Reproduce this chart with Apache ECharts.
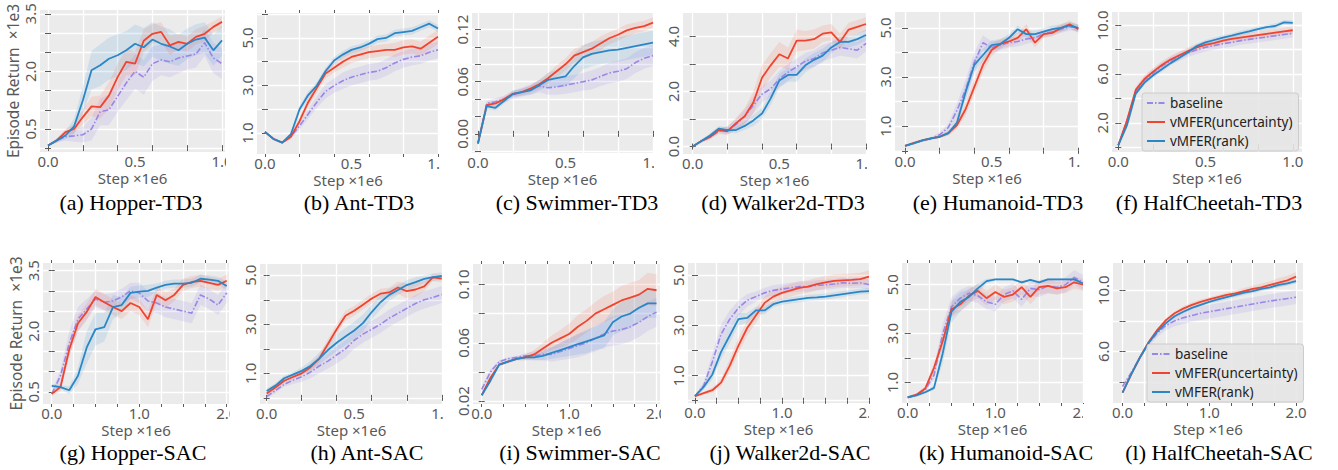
<!DOCTYPE html>
<html><head><meta charset="utf-8">
<script src="https://cdn.jsdelivr.net/npm/echarts@6/dist/echarts.min.js"></script>
<style>html,body{margin:0;padding:0;background:#fff}#chart{width:1338px;height:470px}</style>
</head><body><div id="chart"></div>
<script>
// ---------------- DATA ----------------
const stepsTD3 = [0,0.05,0.1,0.15,0.2,0.25,0.3,0.35,0.4,0.45,0.5,0.55,0.6,0.65,0.7,0.75,0.8,0.85,0.9,0.95,1.0];
const stepsSAC = [0,0.1,0.2,0.3,0.4,0.5,0.6,0.7,0.8,0.9,1.0,1.1,1.2,1.3,1.4,1.5,1.6,1.7,1.8,1.9,2.0];
const xGrid1M = [0,0.2,0.4,0.6,0.8,1.0];
const xLabels1M = [0,0.5,1.0];
const xGrid2M = [0,0.25,0.5,0.75,1.0,1.25,1.5,1.75,2.0];
const xLabels2M = [0,1.0,2.0];
const seriesNames = ['baseline','vMFER(uncertainty)','vMFER(rank)'];

// (a) Hopper-TD3
const hopperTD3_baseline = [0.07,0.2,0.3,0.32,0.35,0.5,0.95,1.0,1.35,1.7,2.0,1.85,2.2,2.3,2.25,2.35,2.4,2.45,2.75,2.35,2.2];
const hopperTD3_uncertainty = [0.07,0.2,0.42,0.5,0.81,1.09,1.07,1.37,1.85,2.25,2.2,2.8,2.98,3.03,2.68,2.77,2.72,2.9,2.98,3.16,3.29];
const hopperTD3_rank = [0.07,0.2,0.33,0.57,1.24,2.03,2.16,2.33,2.42,2.55,2.72,2.63,2.83,2.72,2.65,2.55,2.72,2.83,2.88,2.55,2.81];
const hopperTD3_baseline_sd = [0.02,0.05,0.1,0.15,0.2,0.3,0.35,0.4,0.4,0.45,0.45,0.45,0.45,0.4,0.4,0.4,0.35,0.35,0.35,0.4,0.4];
const hopperTD3_uncertainty_sd = [0.02,0.05,0.08,0.12,0.2,0.25,0.3,0.35,0.35,0.35,0.3,0.3,0.25,0.25,0.25,0.2,0.2,0.2,0.2,0.15,0.15];
const hopperTD3_rank_sd = [0.02,0.05,0.1,0.2,0.35,0.5,0.55,0.55,0.55,0.5,0.5,0.5,0.45,0.45,0.45,0.4,0.4,0.4,0.4,0.4,0.4];
const hopperTD3_yGrid = [0,0.5,1,1.5,2,2.5,3,3.5];
const hopperTD3_yLabels = [0.5,2,3.5];

// (b) Ant-TD3
const antTD3_baseline = [1.05,0.75,0.6,0.85,1.3,1.8,2.3,2.75,3.0,3.2,3.35,3.45,3.55,3.6,3.75,3.95,4.1,4.2,4.25,4.4,4.5];
const antTD3_uncertainty = [1.05,0.75,0.6,0.85,1.5,2.3,2.9,3.5,3.75,4.0,4.2,4.3,4.4,4.45,4.5,4.5,4.6,4.65,4.55,4.8,5.05];
const antTD3_rank = [1.05,0.75,0.6,0.95,2.0,2.6,3.0,3.6,4.05,4.3,4.5,4.6,4.75,4.95,5.0,5.2,5.25,5.3,5.45,5.6,5.4];
const antTD3_baseline_sd = [0.05,0.05,0.05,0.1,0.15,0.2,0.25,0.3,0.3,0.35,0.35,0.35,0.35,0.35,0.35,0.35,0.35,0.35,0.35,0.35,0.35];
const antTD3_uncertainty_sd = [0.05,0.05,0.05,0.1,0.15,0.2,0.2,0.2,0.2,0.25,0.25,0.25,0.25,0.25,0.25,0.3,0.3,0.3,0.3,0.3,0.3];
const antTD3_rank_sd = [0.05,0.05,0.05,0.1,0.15,0.15,0.15,0.15,0.15,0.15,0.15,0.15,0.15,0.15,0.15,0.15,0.15,0.15,0.15,0.15,0.15];
const antTD3_yGrid = [1,2,3,4,5,6];
const antTD3_yLabels = [1,3,5];

// (c) Swimmer-TD3
const swimmerTD3_baseline = [-0.011,0.035,0.037,0.040,0.045,0.048,0.051,0.055,0.053,0.054,0.056,0.058,0.060,0.062,0.066,0.070,0.072,0.075,0.082,0.087,0.090];
const swimmerTD3_uncertainty = [-0.011,0.033,0.035,0.040,0.046,0.048,0.052,0.057,0.064,0.072,0.080,0.090,0.094,0.098,0.104,0.110,0.114,0.119,0.122,0.124,0.128];
const swimmerTD3_rank = [-0.011,0.032,0.030,0.038,0.046,0.048,0.050,0.056,0.062,0.064,0.066,0.078,0.088,0.092,0.094,0.096,0.097,0.099,0.101,0.103,0.105];
const swimmerTD3_baseline_sd = [0.002,0.003,0.004,0.004,0.005,0.005,0.006,0.007,0.008,0.009,0.01,0.01,0.01,0.011,0.011,0.012,0.012,0.012,0.012,0.012,0.012];
const swimmerTD3_uncertainty_sd = [0.002,0.003,0.003,0.003,0.003,0.004,0.004,0.005,0.006,0.007,0.007,0.008,0.008,0.008,0.008,0.007,0.007,0.007,0.006,0.006,0.006];
const swimmerTD3_rank_sd = [0.002,0.003,0.003,0.003,0.004,0.004,0.005,0.006,0.008,0.01,0.012,0.014,0.014,0.014,0.014,0.014,0.014,0.014,0.014,0.014,0.014];
const swimmerTD3_yGrid = [-0.02,0,0.02,0.04,0.06,0.08,0.10,0.12];
const swimmerTD3_yLabels = [0,0.06,0.12];

// (d) Walker2d-TD3
const walkerTD3_baseline = [0,0.2,0.35,0.55,0.6,0.8,1.1,1.5,1.9,2.1,2.45,2.7,2.9,3.1,3.2,3.4,3.5,3.6,3.55,3.5,3.75];
const walkerTD3_uncertainty = [0,0.2,0.35,0.6,0.55,0.85,1.1,1.6,2.5,2.95,3.35,3.2,3.85,3.85,3.9,4.1,4.15,3.8,4.25,4.35,4.45];
const walkerTD3_rank = [0,0.2,0.4,0.65,0.6,0.6,0.75,0.95,1.2,1.75,2.4,2.6,2.6,2.95,3.15,3.3,3.6,3.8,3.8,3.9,4.05];
const walkerTD3_baseline_sd = [0.02,0.05,0.08,0.1,0.15,0.2,0.25,0.3,0.3,0.3,0.3,0.3,0.3,0.3,0.3,0.3,0.3,0.3,0.3,0.3,0.3];
const walkerTD3_uncertainty_sd = [0.02,0.05,0.08,0.1,0.15,0.2,0.3,0.4,0.45,0.45,0.45,0.4,0.4,0.35,0.35,0.3,0.3,0.3,0.25,0.25,0.25];
const walkerTD3_rank_sd = [0.02,0.05,0.08,0.1,0.1,0.12,0.15,0.2,0.2,0.25,0.25,0.25,0.25,0.25,0.25,0.25,0.2,0.2,0.2,0.2,0.2];
const walkerTD3_yGrid = [0,1,2,3,4];
const walkerTD3_yLabels = [0,2,4];

// (e) Humanoid-TD3
const humanoidTD3_baseline = [0.2,0.3,0.42,0.5,0.65,0.95,1.65,2.5,3.6,4.4,4.2,4.3,4.4,4.45,4.55,4.6,4.75,4.85,4.95,5.05,5.0];
const humanoidTD3_uncertainty = [0.2,0.32,0.42,0.5,0.57,0.72,1.05,1.7,2.6,3.5,4.1,4.35,4.45,4.6,4.95,4.4,4.75,4.8,5.0,5.15,4.95];
const humanoidTD3_rank = [0.2,0.3,0.42,0.5,0.57,0.72,1.15,2.4,3.5,3.9,4.3,4.35,4.6,4.95,4.75,4.75,4.85,4.95,5.0,5.1,5.0];
const humanoidTD3_baseline_sd = [0.02,0.03,0.05,0.05,0.1,0.15,0.3,0.4,0.4,0.3,0.25,0.2,0.2,0.2,0.2,0.15,0.15,0.15,0.15,0.15,0.15];
const humanoidTD3_uncertainty_sd = [0.02,0.03,0.05,0.05,0.05,0.1,0.15,0.25,0.3,0.3,0.25,0.2,0.2,0.2,0.2,0.2,0.15,0.15,0.15,0.15,0.15];
const humanoidTD3_rank_sd = [0.02,0.03,0.05,0.05,0.05,0.1,0.2,0.3,0.3,0.25,0.2,0.2,0.15,0.15,0.15,0.15,0.15,0.15,0.15,0.15,0.15];
const humanoidTD3_yGrid = [0,1,2,3,4,5];
const humanoidTD3_yLabels = [1,3,5];

// (f) HalfCheetah-TD3
const cheetahTD3_baseline = [0.15,2.1,4.6,5.5,6.1,6.65,7.1,7.45,7.75,8.0,8.2,8.35,8.5,8.6,8.75,8.85,8.95,9.05,9.15,9.25,9.35];
const cheetahTD3_uncertainty = [0.15,2.2,4.7,5.6,6.2,6.75,7.2,7.55,7.9,8.2,8.4,8.55,8.75,8.9,9.0,9.1,9.2,9.3,9.4,9.5,9.6];
const cheetahTD3_rank = [0.15,1.8,4.4,5.3,5.9,6.4,6.9,7.35,7.8,8.3,8.6,8.8,9.0,9.15,9.35,9.5,9.7,9.85,9.95,10.25,10.2];
const cheetahTD3_baseline_sd = [0.05,0.2,0.25,0.3,0.3,0.3,0.3,0.35,0.35,0.35,0.35,0.35,0.35,0.35,0.35,0.35,0.35,0.35,0.35,0.35,0.35];
const cheetahTD3_uncertainty_sd = [0.05,0.2,0.25,0.3,0.3,0.3,0.3,0.3,0.3,0.3,0.3,0.3,0.3,0.3,0.3,0.3,0.3,0.3,0.3,0.3,0.3];
const cheetahTD3_rank_sd = [0.05,0.2,0.2,0.2,0.2,0.2,0.2,0.2,0.2,0.2,0.2,0.2,0.2,0.2,0.2,0.2,0.2,0.2,0.2,0.2,0.2];
const cheetahTD3_yGrid = [0,2,4,6,8,10];
const cheetahTD3_yLabels = [2,6,10];

// (g) Hopper-SAC
const hopperSAC_baseline = [0.45,0.9,1.7,2.3,2.55,2.8,2.72,2.75,2.85,3.0,2.95,2.75,2.7,2.6,2.55,2.5,2.45,2.9,2.8,2.65,2.95];
const hopperSAC_uncertainty = [0.45,0.62,1.55,2.2,2.48,2.85,2.72,2.6,2.5,2.7,2.6,2.3,2.9,2.77,2.9,3.15,3.22,3.25,3.2,3.15,3.25];
const hopperSAC_rank = [0.65,0.62,0.54,0.9,1.6,2.05,2.1,2.6,2.65,2.95,2.98,3.0,3.08,3.15,3.18,3.18,3.2,3.3,3.28,3.25,3.12];
const hopperSAC_baseline_sd = [0.05,0.15,0.3,0.3,0.25,0.2,0.2,0.2,0.2,0.2,0.25,0.25,0.25,0.25,0.25,0.25,0.25,0.25,0.25,0.25,0.25];
const hopperSAC_uncertainty_sd = [0.05,0.1,0.2,0.2,0.2,0.2,0.2,0.2,0.2,0.2,0.2,0.2,0.2,0.2,0.15,0.15,0.15,0.15,0.15,0.15,0.15];
const hopperSAC_rank_sd = [0.05,0.05,0.1,0.2,0.4,0.4,0.35,0.3,0.2,0.15,0.15,0.15,0.1,0.1,0.1,0.1,0.1,0.1,0.1,0.1,0.1];
const hopperSAC_yGrid = [0.5,1,1.5,2,2.5,3,3.5];
const hopperSAC_yLabels = [0.5,2,3.5];

// (h) Ant-SAC
const antSAC_baseline = [0.05,0.3,0.55,0.72,0.86,1.05,1.3,1.5,1.75,2.0,2.35,2.6,2.8,3.0,3.25,3.45,3.65,3.85,4.0,4.1,4.22];
const antSAC_uncertainty = [0.18,0.42,0.7,0.85,1.0,1.25,1.6,2.2,2.8,3.35,3.55,3.8,4.05,4.25,4.3,4.5,4.35,4.42,4.55,4.92,4.86];
const antSAC_rank = [0.28,0.5,0.8,0.95,1.1,1.3,1.6,1.95,2.25,2.5,2.75,3.05,3.5,3.9,4.2,4.4,4.6,4.72,4.85,4.92,4.97];
const antSAC_baseline_sd = [0.1,0.1,0.1,0.15,0.2,0.25,0.3,0.3,0.35,0.35,0.35,0.35,0.35,0.35,0.35,0.35,0.35,0.35,0.35,0.35,0.35];
const antSAC_uncertainty_sd = [0.1,0.1,0.1,0.1,0.1,0.15,0.15,0.2,0.2,0.2,0.2,0.2,0.2,0.2,0.2,0.25,0.3,0.3,0.2,0.15,0.15];
const antSAC_rank_sd = [0.1,0.1,0.1,0.1,0.15,0.2,0.25,0.3,0.35,0.35,0.35,0.35,0.3,0.3,0.25,0.2,0.2,0.2,0.15,0.15,0.15];
const antSAC_yGrid = [0,1,2,3,4,5];
const antSAC_yLabels = [1,3,5];

// (i) Swimmer-SAC
const swimmerSAC_baseline = [0.028,0.040,0.047,0.049,0.050,0.051,0.051,0.052,0.052,0.054,0.056,0.058,0.060,0.063,0.066,0.068,0.069,0.071,0.074,0.078,0.081];
const swimmerSAC_uncertainty = [0.024,0.036,0.045,0.047,0.049,0.050,0.052,0.056,0.060,0.063,0.066,0.071,0.075,0.080,0.083,0.086,0.089,0.091,0.093,0.097,0.096];
const swimmerSAC_rank = [0.024,0.034,0.045,0.047,0.049,0.050,0.050,0.051,0.053,0.055,0.057,0.059,0.061,0.063,0.065,0.074,0.078,0.080,0.084,0.087,0.087];
const swimmerSAC_baseline_sd = [0.002,0.002,0.001,0.001,0.001,0.002,0.003,0.004,0.005,0.006,0.007,0.008,0.008,0.009,0.009,0.01,0.01,0.01,0.01,0.01,0.01];
const swimmerSAC_uncertainty_sd = [0.001,0.001,0.001,0.001,0.001,0.002,0.003,0.004,0.005,0.006,0.007,0.008,0.008,0.008,0.009,0.009,0.01,0.01,0.01,0.011,0.011];
const swimmerSAC_rank_sd = [0.001,0.001,0.001,0.001,0.001,0.002,0.002,0.003,0.004,0.005,0.006,0.007,0.008,0.008,0.009,0.009,0.01,0.01,0.01,0.01,0.01];
const swimmerSAC_yGrid = [0.02,0.04,0.06,0.08,0.10];
const swimmerSAC_yLabels = [0.02,0.06,0.10];

// (j) Walker2d-SAC
const walkerSAC_baseline = [0.18,0.6,1.55,2.65,3.25,3.7,4.0,4.15,4.3,4.4,4.45,4.5,4.55,4.55,4.6,4.62,4.65,4.7,4.68,4.7,4.63];
const walkerSAC_uncertainty = [0.18,0.3,0.42,0.72,1.4,2.2,2.9,3.4,3.9,4.15,4.3,4.4,4.5,4.55,4.65,4.72,4.78,4.8,4.82,4.85,4.95];
const walkerSAC_rank = [0.18,0.55,1.05,1.95,2.6,3.25,3.3,3.6,3.6,3.85,3.95,4.0,4.05,4.1,4.12,4.15,4.2,4.25,4.3,4.35,4.37];
const walkerSAC_baseline_sd = [0.05,0.15,0.3,0.4,0.35,0.3,0.25,0.2,0.2,0.2,0.2,0.2,0.2,0.2,0.2,0.2,0.2,0.2,0.2,0.2,0.2];
const walkerSAC_uncertainty_sd = [0.05,0.05,0.1,0.15,0.25,0.3,0.3,0.3,0.25,0.25,0.25,0.25,0.25,0.25,0.25,0.25,0.25,0.25,0.25,0.25,0.25];
const walkerSAC_rank_sd = [0.05,0.1,0.2,0.3,0.3,0.25,0.2,0.15,0.15,0.12,0.12,0.12,0.12,0.12,0.12,0.12,0.12,0.12,0.12,0.12,0.12];
const walkerSAC_yGrid = [0,1,2,3,4,5];
const walkerSAC_yLabels = [1,3,5];

// (k) Humanoid-SAC
const humanoidSAC_baseline = [0.39,0.5,0.7,1.3,3.0,4.1,4.45,4.65,4.55,4.3,4.2,4.6,4.75,4.4,4.85,4.8,4.95,4.9,5.0,5.3,5.1];
const humanoidSAC_uncertainty = [0.39,0.5,0.75,1.6,2.7,4.0,4.2,4.55,4.75,4.45,4.7,4.5,4.6,4.9,4.5,4.9,4.95,4.85,4.9,5.1,5.0];
const humanoidSAC_rank = [0.39,0.47,0.6,0.78,2.2,3.9,4.3,4.5,4.85,5.15,5.22,5.22,5.22,5.1,5.2,5.1,5.22,5.22,5.22,5.22,5.05];
const humanoidSAC_baseline_sd = [0.05,0.05,0.1,0.2,0.4,0.4,0.35,0.3,0.3,0.3,0.3,0.3,0.3,0.3,0.3,0.3,0.3,0.3,0.3,0.3,0.3];
const humanoidSAC_uncertainty_sd = [0.05,0.05,0.1,0.2,0.3,0.3,0.3,0.3,0.3,0.3,0.3,0.3,0.3,0.3,0.3,0.3,0.3,0.25,0.25,0.25,0.25];
const humanoidSAC_rank_sd = [0.05,0.05,0.05,0.1,0.4,0.45,0.4,0.3,0.2,0.1,0.05,0.05,0.05,0.05,0.05,0.05,0.05,0.05,0.05,0.05,0.05];
const humanoidSAC_yGrid = [1,2,3,4,5];
const humanoidSAC_yLabels = [1,3,5];

// (l) HalfCheetah-SAC
const cheetahSAC_baseline = [3.7,4.6,5.6,6.5,7.2,7.7,8.0,8.2,8.35,8.5,8.6,8.7,8.8,8.9,9.0,9.1,9.2,9.3,9.38,9.46,9.55];
const cheetahSAC_uncertainty = [3.3,4.5,5.6,6.6,7.4,8.05,8.5,8.8,9.05,9.25,9.4,9.55,9.7,9.8,9.95,10.1,10.2,10.35,10.5,10.65,10.9];
const cheetahSAC_rank = [3.3,4.5,5.6,6.55,7.3,7.85,8.3,8.6,8.85,9.05,9.25,9.4,9.55,9.7,9.85,9.95,10.1,10.2,10.35,10.45,10.6];
const cheetahSAC_baseline_sd = [0.1,0.1,0.15,0.2,0.25,0.3,0.35,0.4,0.4,0.45,0.45,0.45,0.45,0.45,0.45,0.45,0.45,0.45,0.45,0.45,0.45];
const cheetahSAC_uncertainty_sd = [0.05,0.05,0.1,0.1,0.1,0.1,0.1,0.15,0.15,0.15,0.15,0.15,0.15,0.2,0.2,0.2,0.25,0.25,0.3,0.3,0.3];
const cheetahSAC_rank_sd = [0.05,0.05,0.1,0.1,0.1,0.1,0.1,0.1,0.1,0.1,0.1,0.15,0.15,0.15,0.15,0.15,0.15,0.15,0.15,0.15,0.15];
const cheetahSAC_yGrid = [4,6,8,10];
const cheetahSAC_yLabels = [6,10];

// ---------------- ASSEMBLY ----------------
const panels = [
  {cap:'(a) Hopper-TD3', steps:stepsTD3, xGrid:xGrid1M, xLabels:xLabels1M, yGrid:hopperTD3_yGrid, yLabels:hopperTD3_yLabels, dec:1, yName:true,
   lines:[hopperTD3_baseline,hopperTD3_uncertainty,hopperTD3_rank], sd:[hopperTD3_baseline_sd,hopperTD3_uncertainty_sd,hopperTD3_rank_sd]},
  {cap:'(b) Ant-TD3', steps:stepsTD3, xGrid:xGrid1M, xLabels:xLabels1M, yGrid:antTD3_yGrid, yLabels:antTD3_yLabels, dec:1,
   lines:[antTD3_baseline,antTD3_uncertainty,antTD3_rank], sd:[antTD3_baseline_sd,antTD3_uncertainty_sd,antTD3_rank_sd]},
  {cap:'(c) Swimmer-TD3', steps:stepsTD3, xGrid:xGrid1M, xLabels:xLabels1M, yGrid:swimmerTD3_yGrid, yLabels:swimmerTD3_yLabels, dec:2,
   lines:[swimmerTD3_baseline,swimmerTD3_uncertainty,swimmerTD3_rank], sd:[swimmerTD3_baseline_sd,swimmerTD3_uncertainty_sd,swimmerTD3_rank_sd]},
  {cap:'(d) Walker2d-TD3', steps:stepsTD3, xGrid:xGrid1M, xLabels:xLabels1M, yGrid:walkerTD3_yGrid, yLabels:walkerTD3_yLabels, dec:1,
   lines:[walkerTD3_baseline,walkerTD3_uncertainty,walkerTD3_rank], sd:[walkerTD3_baseline_sd,walkerTD3_uncertainty_sd,walkerTD3_rank_sd]},
  {cap:'(e) Humanoid-TD3', steps:stepsTD3, xGrid:xGrid1M, xLabels:xLabels1M, yGrid:humanoidTD3_yGrid, yLabels:humanoidTD3_yLabels, dec:1,
   lines:[humanoidTD3_baseline,humanoidTD3_uncertainty,humanoidTD3_rank], sd:[humanoidTD3_baseline_sd,humanoidTD3_uncertainty_sd,humanoidTD3_rank_sd]},
  {cap:'(f) HalfCheetah-TD3', steps:stepsTD3, xGrid:xGrid1M, xLabels:xLabels1M, yGrid:cheetahTD3_yGrid, yLabels:cheetahTD3_yLabels, dec:1,
   lines:[cheetahTD3_baseline,cheetahTD3_uncertainty,cheetahTD3_rank], sd:[cheetahTD3_baseline_sd,cheetahTD3_uncertainty_sd,cheetahTD3_rank_sd]},
  {cap:'(g) Hopper-SAC', steps:stepsSAC, xGrid:xGrid2M, xLabels:xLabels2M, yGrid:hopperSAC_yGrid, yLabels:hopperSAC_yLabels, dec:1, yName:true,
   lines:[hopperSAC_baseline,hopperSAC_uncertainty,hopperSAC_rank], sd:[hopperSAC_baseline_sd,hopperSAC_uncertainty_sd,hopperSAC_rank_sd]},
  {cap:'(h) Ant-SAC', steps:stepsTD3, xGrid:xGrid1M, xLabels:xLabels1M, yGrid:antSAC_yGrid, yLabels:antSAC_yLabels, dec:1,
   lines:[antSAC_baseline,antSAC_uncertainty,antSAC_rank], sd:[antSAC_baseline_sd,antSAC_uncertainty_sd,antSAC_rank_sd]},
  {cap:'(i) Swimmer-SAC', steps:stepsSAC, xGrid:xGrid2M, xLabels:xLabels2M, yGrid:swimmerSAC_yGrid, yLabels:swimmerSAC_yLabels, dec:2,
   lines:[swimmerSAC_baseline,swimmerSAC_uncertainty,swimmerSAC_rank], sd:[swimmerSAC_baseline_sd,swimmerSAC_uncertainty_sd,swimmerSAC_rank_sd]},
  {cap:'(j) Walker2d-SAC', steps:stepsSAC, xGrid:xGrid2M, xLabels:xLabels2M, yGrid:walkerSAC_yGrid, yLabels:walkerSAC_yLabels, dec:1,
   lines:[walkerSAC_baseline,walkerSAC_uncertainty,walkerSAC_rank], sd:[walkerSAC_baseline_sd,walkerSAC_uncertainty_sd,walkerSAC_rank_sd]},
  {cap:'(k) Humanoid-SAC', steps:stepsSAC, xGrid:xGrid2M, xLabels:xLabels2M, yGrid:humanoidSAC_yGrid, yLabels:humanoidSAC_yLabels, dec:1,
   lines:[humanoidSAC_baseline,humanoidSAC_uncertainty,humanoidSAC_rank], sd:[humanoidSAC_baseline_sd,humanoidSAC_uncertainty_sd,humanoidSAC_rank_sd]},
  {cap:'(l) HalfCheetah-SAC', steps:stepsSAC, xGrid:xGrid2M, xLabels:xLabels2M, yGrid:cheetahSAC_yGrid, yLabels:cheetahSAC_yLabels, dec:1,
   lines:[cheetahSAC_baseline,cheetahSAC_uncertainty,cheetahSAC_rank], sd:[cheetahSAC_baseline_sd,cheetahSAC_uncertainty_sd,cheetahSAC_rank_sd]}
];

// layout (pixel boxes and axis extents)
const layout = [
  {l:40,  t:10,  w:185, h:142, x0:-0.046, x1:1.017, y0:-0.1,   y1:3.6,   cx:131,  cy:202, clip:226},
  {l:257, t:13,  w:182, h:141, x0:-0.046, x1:1.006, y0:0.12,   y1:6.05,  cx:359,  cy:202, clip:440},
  {l:472, t:13,  w:181, h:140, x0:-0.034, x1:1.0,   y0:-0.022, y1:0.139, cx:577,  cy:202, clip:654},
  {l:683, t:13,  w:183, h:141, x0:-0.056, x1:1.0,   y0:-0.27,  y1:4.85,  cx:783,  cy:202, clip:867},
  {l:895, t:12,  w:184, h:140, x0:-0.058, x1:1.004, y0:-0.05,  y1:5.65,  cx:998,  cy:202, clip:1080},
  {l:1112,t:12,  w:190, h:140, x0:-0.036, x1:1.053, y0:-0.4,   y1:11.1,  cx:1209, cy:202, clip:null},
  {l:43,  t:263, w:186, h:141, x0:-0.1,   x1:2.026, y0:0.2,    y1:3.69,  cx:133,  cy:452, clip:230},
  {l:260, t:264, w:183, h:140, x0:-0.038, x1:1.007, y0:-0.25,  y1:5.46,  cx:367,  cy:452, clip:443},
  {l:473, t:264, w:187, h:140, x0:-0.1,   x1:2.04,  y0:0.018,  y1:0.114, cx:580,  cy:452, clip:661},
  {l:688, t:263, w:181, h:140, x0:-0.08,  x1:2.0,   y0:-0.09,  y1:5.49,  cx:790,  cy:452, clip:869},
  {l:902, t:263, w:181, h:140, x0:-0.065, x1:2.0,   y0:0.16,   y1:5.89,  cx:1006, cy:452, clip:1083},
  {l:1113,t:263, w:190, h:140, x0:-0.11,  x1:2.08,  y0:2.62,   y1:11.79, cx:1219, cy:452, clip:null}
];

const FONT = '"Noto Sans", "DejaVu Sans", sans-serif';
const AX = '#595959';
const LINE_COLORS = ['#9a86e6', '#ee4430', '#2a86c5'];
const BAND_COLORS = ['rgba(150,130,230,0.16)', 'rgba(240,110,90,0.16)', 'rgba(60,140,210,0.14)'];
const LINE_TYPES = [[6,2,1.5,2], 'solid', 'solid'];

const grids = [], xAxes = [], yAxes = [], series = [], graphics = [];

panels.forEach((p, k) => {
  const L = layout[k];
  grids.push({left:L.l, top:L.t, width:L.w, height:L.h, show:true, backgroundColor:'#ebebeb', borderWidth:0, containLabel:false});
  const tickStyle = {show:true, length:3, lineStyle:{color:AX, width:1}};
  xAxes.push({
    type:'value', gridIndex:k, position:'bottom', min:L.x0, max:L.x1,
    axisLine:{show:false},
    axisTick:Object.assign({customValues:p.xGrid}, tickStyle),
    splitLine:{show:true, lineStyle:{color:'#ffffff', width:1.3}},
    axisLabel:{customValues:p.xLabels, formatter:v => Number(v).toFixed(1), color:AX, fontSize:15, lineHeight:13, fontFamily:FONT, margin:2},
    name:'Step ×1e6', nameLocation:'middle', nameGap:19, nameMoveOverlap:false,
    nameTextStyle:{color:AX, fontSize:15, lineHeight:14, fontFamily:FONT}
  });
  xAxes.push({
    type:'value', gridIndex:k, position:'top', min:L.x0, max:L.x1,
    axisLine:{show:false}, axisTick:Object.assign({customValues:p.xGrid}, tickStyle),
    splitLine:{show:false}, axisLabel:{show:false}
  });
  const dec = p.dec;
  const yMain = {
    type:'value', gridIndex:k, position:'left', min:L.y0, max:L.y1,
    axisLine:{show:false},
    axisTick:Object.assign({customValues:p.yGrid}, tickStyle),
    splitLine:{show:true, lineStyle:{color:'#ffffff', width:1.3}},
    axisLabel:{customValues:p.yLabels, formatter:v => Number(v).toFixed(dec), rotate:90, color:AX, fontSize:15, lineHeight:13, fontFamily:FONT, margin:4}
  };
  if (p.yName) {
    yMain.name = 'Episode Return  ×1e3';
    yMain.nameLocation = 'middle';
    yMain.nameRotate = 90;
    yMain.nameGap = 20;
    yMain.nameMoveOverlap = false;
    yMain.nameTextStyle = {color:AX, fontSize:15.5, lineHeight:14, fontFamily:FONT};
  }
  yAxes.push(yMain);
  yAxes.push({
    type:'value', gridIndex:k, position:'right', min:L.y0, max:L.y1,
    axisLine:{show:false}, axisTick:Object.assign({customValues:p.yGrid}, tickStyle),
    splitLine:{show:false}, axisLabel:{show:false}
  });
  const xi = 2*k, yi = 2*k;
  // shaded bands (mean ± spread)
  p.lines.forEach((vals, j) => {
    const sd = p.sd[j];
    const steps = p.steps;
    const bandData = steps.map((x, i) => [x, vals[i] - sd[i], vals[i] + sd[i]]);
    series.push({
      type:'custom', name:'band', xAxisIndex:xi, yAxisIndex:yi, silent:true, z:1, clip:true,
      data:bandData, encode:{x:0, y:[1,2]},
      renderItem:(params, api) => {
        if (params.dataIndex !== 0) return null;
        const pts = [];
        for (let i = 0; i < bandData.length; i++) pts.push(api.coord([bandData[i][0], bandData[i][2]]));
        for (let i = bandData.length - 1; i >= 0; i--) pts.push(api.coord([bandData[i][0], bandData[i][1]]));
        return {type:'polygon', shape:{points:pts}, style:{fill:BAND_COLORS[j], stroke:null}};
      }
    });
  });
  // mean lines
  p.lines.forEach((vals, j) => {
    series.push({
      type:'line', name:seriesNames[j], xAxisIndex:xi, yAxisIndex:yi, z:3+j,
      data:p.steps.map((x, i) => [x, vals[i]]),
      symbol:'none', showSymbol:false, smooth:false, silent:true,
      lineStyle:{color:LINE_COLORS[j], width:j===0?1.6:1.8, type:LINE_TYPES[j]},
      itemStyle:{color:LINE_COLORS[j]}
    });
  });
  // caption
  graphics.push({type:'text', x:L.cx, y:L.cy, z:50,
    style:{text:p.cap, font:'22px "Liberation Serif", "Times New Roman", serif', fill:'#000', align:'center', verticalAlign:'middle'}});
  // crop of the right-most tick label, as in the figure
  if (L.clip !== null) {
    graphics.push({type:'rect', z:100, shape:{x:L.clip, y:L.t + L.h + 1, width:12, height:15}, style:{fill:'#ffffff'}});
  }
});

const legendBase = {
  data:seriesNames, orient:'vertical', itemWidth:18, itemHeight:12, itemGap:5,
  padding:[3,6,3,4], backgroundColor:'rgba(229,229,229,0.9)', borderColor:'#cccccc', borderWidth:1, borderRadius:3,
  itemStyle:{opacity:0, borderWidth:0},
  textStyle:{fontFamily:FONT, fontSize:13.5, lineHeight:14, color:'#222'}, selectedMode:false, z:20
};

const option = {
  animation:false,
  backgroundColor:'#ffffff',
  grid:grids, xAxis:xAxes, yAxis:yAxes, series:series,
  legend:[Object.assign({left:1142, top:93}, legendBase), Object.assign({left:1147, top:344}, legendBase)],
  graphic:graphics
};

const chart = echarts.init(document.getElementById('chart'), null, {renderer:'svg'});
chart.setOption(option);
</script>
</body></html>
